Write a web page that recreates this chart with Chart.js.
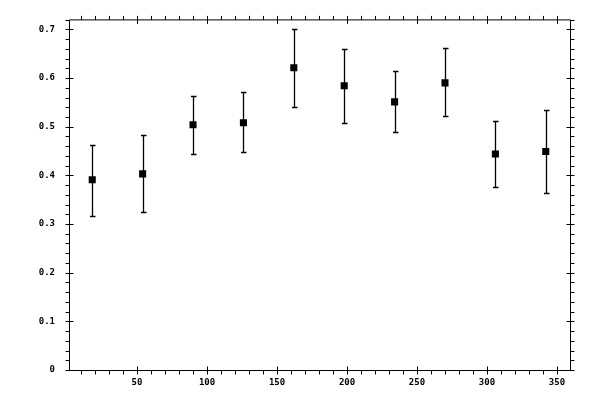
<!DOCTYPE html>
<html>
<head>
<meta charset="utf-8">
<script src="https://cdn.jsdelivr.net/npm/chart.js@4/dist/chart.umd.min.js"></script>
<style>
  html, body { margin: 0; padding: 0; background: #fff; }
  #wrap { width: 600px; height: 400px; }
</style>
</head>
<body>
<div id="wrap"><canvas id="plot"></canvas></div>
<script>
// values
const angles = [18, 54, 90, 126, 162, 198, 234, 270, 306, 342];
const means  = [0.391, 0.403, 0.504, 0.508, 0.621, 0.584, 0.551, 0.590, 0.444, 0.449];
const upper  = [0.462, 0.483, 0.564, 0.572, 0.700, 0.660, 0.615, 0.662, 0.512, 0.535];
const lower  = [0.317, 0.325, 0.444, 0.447, 0.541, 0.508, 0.490, 0.521, 0.377, 0.364];

const xTicks = [50, 100, 150, 200, 250, 300, 350];
const yTicks = [0, 0.1, 0.2, 0.3, 0.4, 0.5, 0.6, 0.7];
const xMinorStep = 10;
const yMinorStep = 0.02;

const tickFont = { family: 'DejaVu Sans Mono', size: 9, weight: 'bold' };

// error bars, drawn under the markers
const errorBars = {
    id: 'errorBars',
    beforeDatasetsDraw(chart) {
        const ctx = chart.ctx;
        const xs = chart.scales.x, ys = chart.scales.y;
        ctx.save();
        ctx.strokeStyle = '#000';
        ctx.lineWidth = 1.3;
        angles.forEach((a, i) => {
            const px = Math.round(xs.getPixelForValue(a)) + 0.5;
            const top = Math.round(ys.getPixelForValue(upper[i])) + 0.5;
            const bot = Math.round(ys.getPixelForValue(lower[i])) + 0.5;
            ctx.beginPath();
            ctx.moveTo(px, top); ctx.lineTo(px, bot);
            ctx.moveTo(px - 2.5, top); ctx.lineTo(px + 3, top);
            ctx.moveTo(px - 2.5, bot); ctx.lineTo(px + 3, bot);
            ctx.stroke();
        });
        ctx.restore();
    }
};

// box frame with major ticks crossing and minor ticks outside
const frameTicks = {
    id: 'frameTicks',
    afterDraw(chart) {
        const ctx = chart.ctx;
        const area = chart.chartArea;
        const xs = chart.scales.x, ys = chart.scales.y;
        const L = area.left + 0.5, R = area.right + 0.5;
        const T = area.top + 0.5, B = area.bottom + 0.5;
        ctx.save();
        ctx.strokeStyle = '#000';
        ctx.lineWidth = 1;
        ctx.beginPath();
        ctx.rect(L, T, R - L, B - T);

        for (let v = xMinorStep; v <= xs.max + 1e-9; v += xMinorStep) {
            const px = Math.round(xs.getPixelForValue(v)) + 0.5;
            const major = xTicks.some(t => Math.abs(t - v) < 1e-6);
            ctx.moveTo(px, B + 4); ctx.lineTo(px, major ? B - 4 : B);
            ctx.moveTo(px, T - 4); ctx.lineTo(px, major ? T + 4 : T);
        }
        for (let k = 0; k * yMinorStep <= ys.max + 1e-9; k++) {
            const v = k * yMinorStep;
            const py = Math.round(ys.getPixelForValue(v)) + 0.5;
            const major = yTicks.some(t => Math.abs(t - v) < 1e-6);
            ctx.moveTo(L - 4, py); ctx.lineTo(major ? L + 4 : L, py);
            ctx.moveTo(R + 4, py); ctx.lineTo(major ? R - 4 : R, py);
        }
        ctx.stroke();
        ctx.restore();
    }
};

new Chart(document.getElementById('plot'), {
    type: 'scatter',
    data: {
        datasets: [{
            data: angles.map((a, i) => ({ x: a, y: means[i] })),
            pointStyle: 'rect',
            pointRadius: 5,
            pointHoverRadius: 5,
            pointBorderWidth: 0,
            backgroundColor: '#000',
            borderColor: '#000'
        }]
    },
    options: {
        responsive: true,
        maintainAspectRatio: false,
        animation: false,
        events: [],
        layout: { padding: { top: 19, right: 30, left: 0, bottom: 0 } },
        plugins: { legend: { display: false }, tooltip: { enabled: false } },
        scales: {
            x: {
                type: 'linear',
                min: 1.4,
                max: 359.3,
                grid: { display: false, drawTicks: false },
                border: { display: false },
                afterBuildTicks: s => { s.ticks = xTicks.map(v => ({ value: v })); },
                afterFit: s => { s.height = 30; },
                ticks: {
                    color: '#000',
                    font: tickFont,
                    padding: 7,
                    maxRotation: 0,
                    callback: v => String(v)
                }
            },
            y: {
                type: 'linear',
                min: 0,
                max: 0.7205,
                grid: { display: false, drawTicks: false },
                border: { display: false },
                afterBuildTicks: s => { s.ticks = yTicks.map(v => ({ value: v })); },
                afterFit: s => { s.width = 69; },
                ticks: {
                    color: '#000',
                    font: tickFont,
                    padding: 14,
                    callback: v => (v === 0 ? '0' : v.toFixed(1))
                }
            }
        }
    },
    plugins: [errorBars, frameTicks]
});
</script>
</body>
</html>
